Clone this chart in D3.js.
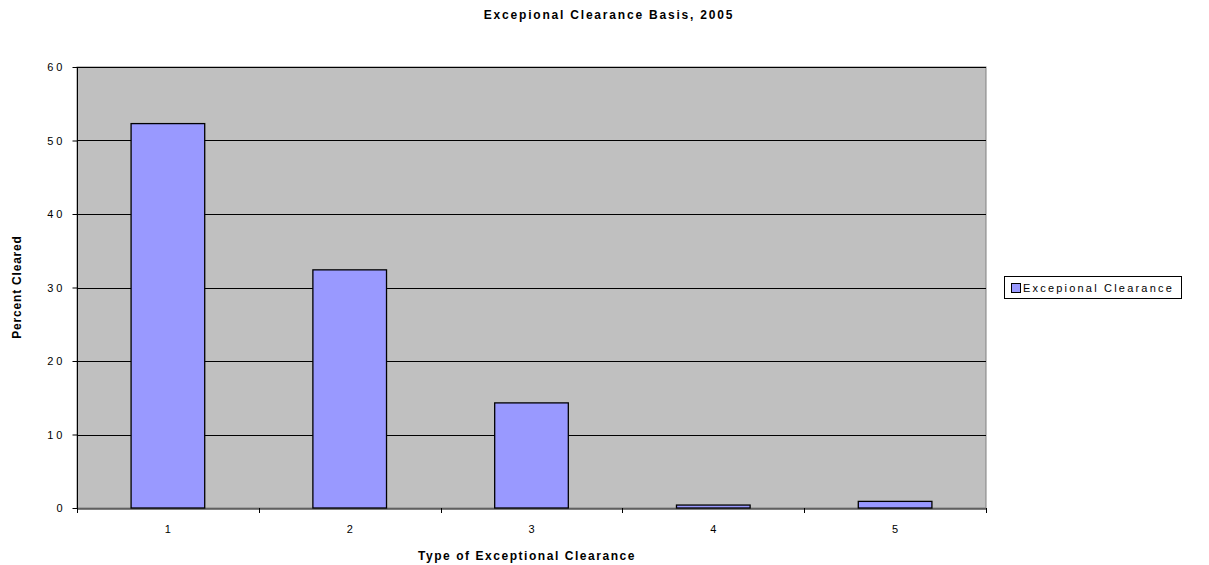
<!DOCTYPE html>
<html><head><meta charset="utf-8">
<script src="https://cdn.jsdelivr.net/npm/d3@7"></script>
<style>body{margin:0;background:#fff;} text{font-family:"Liberation Sans",Arial,sans-serif;}</style>
</head><body>
<svg id="c" width="1209" height="565"></svg>
<script>
const categories = ["1","2","3","4","5"];
const values = [52.3, 32.4, 14.3, 0.4, 0.9];
const yTicks = [0,10,20,30,40,50,60];
const seriesName = "Excepional Clearance";
const title = "Excepional Clearance Basis, 2005";
const xTitle = "Type of Exceptional Clearance";
const yTitle = "Percent Cleared";

const svg = d3.select("#c");
const m = {l:77, t:67, r:986, b:508};
const x = d3.scaleBand().domain(categories).range([m.l, m.r]).paddingInner(0.595).paddingOuter(0.2975);
const xb = d3.scaleBand().domain(categories).range([m.l, m.r]);
const y = d3.scaleLinear().domain([0,60]).range([m.b, m.t]);

svg.append("rect").attr("x",m.l).attr("y",m.t).attr("width",m.r-m.l).attr("height",m.b-m.t)
  .attr("fill","#c0c0c0").attr("stroke","#808080").attr("stroke-width",1);

svg.append("g").selectAll("line").data(yTicks.filter(d=>d>0)).join("line")
  .attr("x1",m.l).attr("x2",m.r).attr("y1",d=>Math.round(y(d))+0.5).attr("y2",d=>Math.round(y(d))+0.5)
  .attr("stroke","#000").attr("stroke-width",1);

svg.append("g").selectAll("rect").data(values).join("rect")
  .attr("x",(d,i)=>x(categories[i])).attr("y",d=>y(d)).attr("width",x.bandwidth()).attr("height",d=>m.b-y(d))
  .attr("fill","#9999ff").attr("stroke","#000").attr("stroke-width",1.3);

// y axis
const ya = svg.append("g").attr("transform",`translate(${m.l+0.5},0)`)
  .call(d3.axisLeft(y).tickValues(yTicks).tickSize(5).tickPadding(7));
ya.select(".domain").attr("stroke","#000").attr("d",`M-0,${m.t}V${m.b}`);
ya.selectAll("line").attr("stroke","#000");
ya.selectAll("text").attr("font-size",11).attr("letter-spacing","3px").attr("fill","#000");

// x axis
const xa = svg.append("g").attr("transform",`translate(0,${m.b+0.5})`)
  .call(d3.axisBottom(xb).tickSize(0).tickPadding(17));
xa.select(".domain").attr("stroke","#000");
xa.selectAll("text").attr("font-size",11).attr("fill","#000");
const bounds = categories.map(c=>xb(c)).concat([m.r]);
svg.append("g").selectAll("line").data(bounds).join("line")
  .attr("x1",d=>Math.round(d)+0.5).attr("x2",d=>Math.round(d)+0.5).attr("y1",m.b).attr("y2",m.b+5)
  .attr("stroke","#000");

svg.append("text").attr("x",609).attr("y",19).attr("text-anchor","middle")
  .attr("font-size",12).attr("font-weight","bold").attr("letter-spacing","1.8px").text(title);
svg.append("text").attr("x",527).attr("y",560).attr("text-anchor","middle")
  .attr("font-size",12).attr("font-weight","bold").attr("letter-spacing","1.55px").text(xTitle);
svg.append("text").attr("transform","translate(21,287) rotate(-90)").attr("text-anchor","middle")
  .attr("font-size",12).attr("font-weight","bold").attr("letter-spacing","0.8px").text(yTitle);

// legend
const lg = svg.append("g");
lg.append("rect").attr("x",1004.5).attr("y",276.5).attr("width",177).attr("height",22).attr("fill","#fff").attr("stroke","#000");
lg.append("rect").attr("x",1011.5).attr("y",283.5).attr("width",9).attr("height",9).attr("fill","#9999ff").attr("stroke","#000");
lg.append("text").attr("x",1023).attr("y",292).attr("font-size",11).attr("letter-spacing","2.2px").text(seriesName);
</script>
</body></html>
